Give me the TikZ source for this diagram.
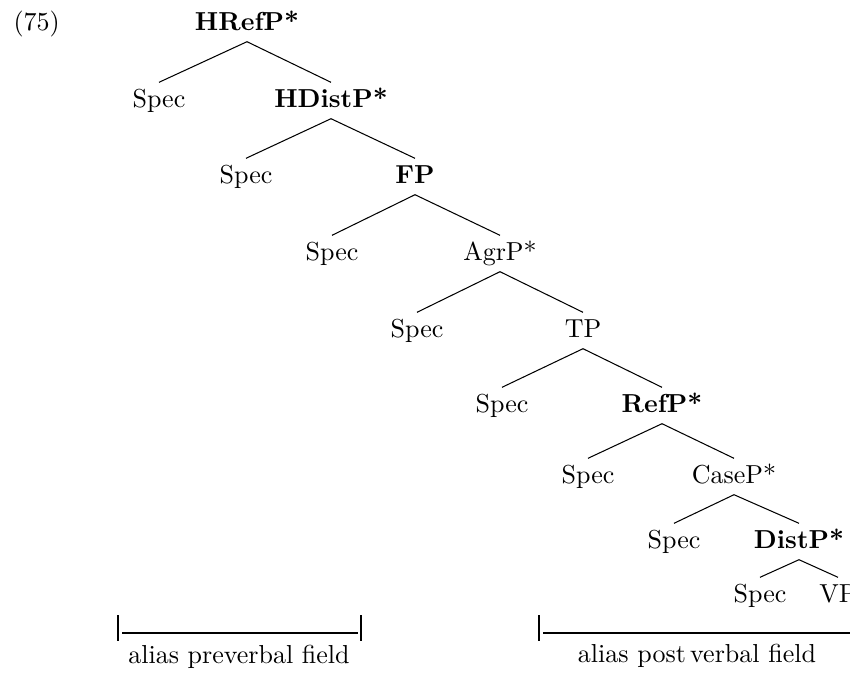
\documentclass[tikz,border=0pt]{standalone}
\begin{document}
\begin{tikzpicture}[x=0.3846pt,y=-0.3846pt,
  tn/.style={anchor=base, inner xsep=1pt, inner ysep=2.3pt, text height=7pt, text depth=2pt},
  bn/.style={tn, font=\bfseries},
  br/.style={line width=1pt},
  tick/.style={line width=0.4pt},
  lab/.style={anchor=base, inner sep=0pt}]
\useasboundingbox (0,0) rectangle (850,673);
\clip (0,0) rectangle (850,673);
% example number
\node[lab, anchor=base west] (num) at (13,30) {(75)};
% tree nodes
\node[bn] (r0) at (247,30) {HRefP*};
\node[tn] (s1) at (159,107) {Spec};
\node[bn] (r1) at (331,107) {HDistP*};
\node[tn] (s2) at (246,183) {Spec};
\node[bn] (r2) at (415,183) {FP};
\node[tn] (s3) at (332,260) {Spec};
\node[tn] (r3) at (500,260) {AgrP*};
\node[tn] (s4) at (417,337) {Spec};
\node[tn] (r4) at (583,337) {TP};
\node[tn] (s5) at (502,412) {Spec};
\node[bn] (r5) at (662,412) {RefP*};
\node[tn] (s6) at (588,483) {Spec};
\node[tn] (r6) at (734,483) {CaseP*};
\node[tn] (s7) at (674,548) {Spec};
\node[bn] (r7) at (799,548) {DistP*};
\node[tn] (s8) at (760,602) {Spec};
\node[tn] (r8) at (838,602) {VP};
% edges
\foreach \p/\a/\b in {r0/s1/r1, r1/s2/r2, r2/s3/r3, r3/s4/r4, r4/s5/r5, r5/s6/r6, r6/s7/r7, r7/s8/r8}{
  \draw (\p.south) -- (\a.north);
  \draw (\p.south) -- (\b.north);
}
% brackets
\coordinate (l1) at (118,615); \coordinate (l2) at (118,641);
\coordinate (l3) at (361,615); \coordinate (l4) at (361,641);
\coordinate (la) at (122,633); \coordinate (lb) at (358,633);
\draw[tick] (l1) -- (l2);
\draw[tick] (l3) -- (l4);
\draw[br] (la) -- (lb);
\node[lab] (pre) at (239,663) {alias preverbal field};
\coordinate (m1) at (539,615); \coordinate (m2) at (539,641);
\coordinate (m3) at (855,615); \coordinate (m4) at (855,641);
\coordinate (ma) at (543,633); \coordinate (mb) at (851,633);
\draw[tick] (m1) -- (m2);
\draw[tick] (m3) -- (m4);
\draw[br] (ma) -- (mb);
\node[lab] (post) at (697,662) {alias post\,verbal field};
\end{tikzpicture}
\end{document}
